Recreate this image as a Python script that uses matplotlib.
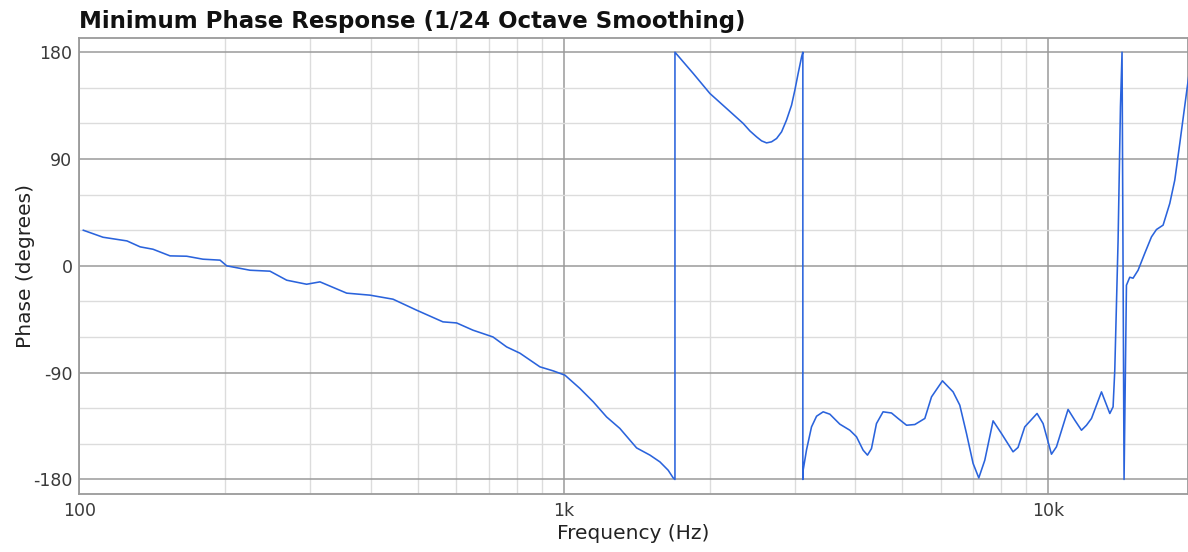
"""
plot.py
-------
Minimum phase response plot (1/24 octave smoothing), saved to out.png.
"""

import matplotlib
matplotlib.use("Agg")  # non-interactive backend
import matplotlib.pyplot as plt
from matplotlib.ticker import FixedLocator, FixedFormatter, MultipleLocator, NullFormatter

# Frequency (Hz) and phase (degrees).
# Wraps at +/-180 are kept as two points at the same frequency.
frekuensi = [
    101.9, 111.9, 125.4, 133.5, 141.9, 153.9, 166.6, 180.0, 195.2, 201.5,
    225.1, 247.5, 268.0, 294.6, 313.9, 356.4, 398.1, 444.2, 497.2, 563.2,
    601.0, 649.5, 714.3, 762.3, 812.1, 893.0, 951.3, 1005.8, 1080, 1151,
    1226, 1306, 1370, 1414, 1507, 1580, 1643, 1683, 1697,
    # wrap to +180
    1697, 1851, 2004, 2169, 2347, 2423, 2501, 2562, 2623, 2686, 2751, 2817,
    2884, 2954, 3001, 3048, 3098, 3117,
    # wrap to -180
    3117, 3122, 3172, 3248, 3327, 3433, 3544, 3716, 3897, 4022, 4151, 4238,
    4319, 4423, 4564, 4751, 4902, 5103, 5308, 5566, 5746, 6053, 6367, 6573,
    6786, 7002, 7194, 7402, 7700, 8014, 8467, 8670, 8951, 9490, 9766, 10163,
    10407, 10998, 11353, 11722, 12004, 12293, 12891, 13412, 13622, 13732,
    13949, 14108, 14215,
    # wrap to -180
    14352, 14516, 14746, 14979, 15341, 15837, 16349, 16742, 17278, 17836,
    18264, 18703, 19364, 19600,
]
fase = [
    30.0, 24.1, 21.0, 16.0, 14.0, 8.4, 8.1, 5.6, 4.8, 0.0,
    -3.7, -4.5, -12.1, -15.5, -13.5, -23.0, -24.7, -28.1, -37.4, -47.2,
    -48.1, -54.2, -59.9, -68.3, -73.6, -85.1, -88.5, -92.1, -103.3, -114.6,
    -127.3, -137.0, -146.9, -153.4, -159.5, -165.2, -172.2, -178.7, -180.0,
    180.0, 162.1, 145.2, 132.6, 120.0, 113.7, 108.7, 105.3, 103.6, 104.5, 107.3, 112.9,
    122.8, 135.4, 148.1, 162.1, 176.0, 180.0,
    -180.0, -172.0, -155.0, -135.7, -126.7, -123.0, -125.0, -133.4, -138.5, -144.0, -155.3, -159.5,
    -154.0, -132.9, -123.0, -124.0, -128.6, -134.3, -133.7, -128.6, -110.4, -96.9, -106.2, -117.4,
    -141.3, -166.5, -178.7, -163.8, -130.6, -141.3, -156.7, -153.0, -135.7, -124.4, -132.9, -158.7,
    -152.5, -121.0, -130.0, -138.5, -134.3, -128.6, -106.2, -124.4, -118.8, -88.0,
    21.0, 134.0, 180.0,
    -180.0, -16.3, -9.6, -10.4, -3.7, 10.6, 24.4, 30.6, 34.3, 52.6,
    72.2, 103.0, 149.4, 165.0,
]

x_ticks = [100, 1000, 10000]
x_tick_labels = ["100", "1k", "10k"]
y_ticks = [-180, -90, 0, 90, 180]

WARNA_GARIS = "#2a63dc"
WARNA_TEKS = "#3a3a3a"


def buat_grafik_fase(path_output: str):
    """Draw the phase curve with log frequency axis and save it."""
    plt.rcParams["font.family"] = ["DejaVu Sans"]
    plt.rcParams["axes.unicode_minus"] = False  # reference uses plain hyphen

    fig = plt.figure(figsize=(11.88, 5.52), dpi=100)
    ax = fig.add_axes([0.0668, 0.1056, 0.9332, 0.8256])

    ax.plot(frekuensi, fase, color=WARNA_GARIS, linewidth=1.15, zorder=3)

    ax.set_xscale("log")
    ax.set_xlim(100, 19450)
    ax.set_ylim(-192, 192)

    # Major / minor grid
    ax.xaxis.set_major_locator(FixedLocator(x_ticks))
    ax.xaxis.set_major_formatter(FixedFormatter(x_tick_labels))
    ax.xaxis.set_minor_locator(FixedLocator(
        [m * d for d in (100, 1000, 10000) for m in range(2, 10)]))
    ax.xaxis.set_minor_formatter(NullFormatter())
    ax.yaxis.set_major_locator(FixedLocator(y_ticks))
    ax.yaxis.set_minor_locator(MultipleLocator(30))

    ax.grid(which="major", color="#9a9a9a", linewidth=1.1, zorder=1)
    ax.grid(which="minor", color="#dcdcdc", linewidth=1.0, zorder=0)
    ax.set_axisbelow(True)

    for sisi in ax.spines.values():
        sisi.set_color("#9a9a9a")
        sisi.set_linewidth(1.3)

    ax.tick_params(which="both", length=0)
    ax.tick_params(axis="x", pad=6, labelsize=12.5, labelcolor=WARNA_TEKS)
    ax.tick_params(axis="y", pad=5, labelsize=12.5, labelcolor=WARNA_TEKS)

    ax.set_title("Minimum Phase Response (1/24 Octave Smoothing)", loc="left",
                 fontsize=16.5, fontweight="bold", pad=7, color="#111111")
    ax.set_xlabel("Frequency (Hz)", fontsize=14.5, color="#222222", labelpad=3)
    ax.set_ylabel("Phase (degrees)", fontsize=14.5, color="#222222", labelpad=-1.5)

    fig.savefig(path_output, dpi=100)
    plt.close(fig)
    print(f"[INFO] Grafik disimpan ke: {path_output}")


if __name__ == "__main__":
    buat_grafik_fase("out.png")
